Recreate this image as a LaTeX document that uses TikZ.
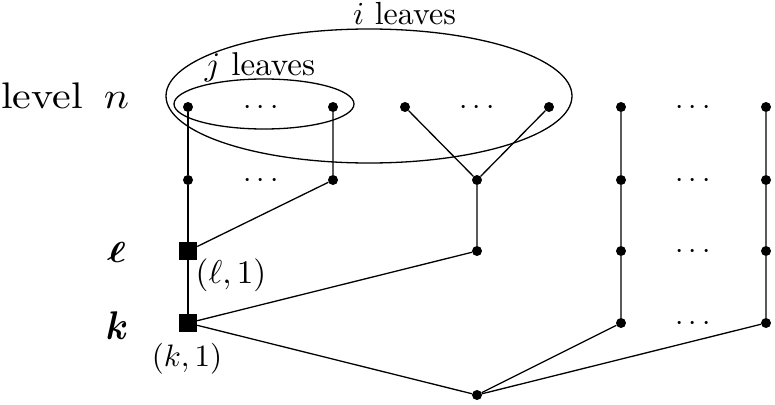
\RequirePackage{fix-cm}
\documentclass[tikz,border=0pt]{standalone}
\usepackage{bm}
\usepackage{graphicx}
\begin{document}
\begin{tikzpicture}[x=1pt,y=-1pt,
  dot/.style={circle,fill=black,inner sep=0pt,minimum size=10pt},
  sq/.style={rectangle,fill=black,inner sep=0pt,minimum size=18pt},
  edge/.style={line width=1.3pt},
  lbl/.style={inner sep=0pt,anchor=base}]
\useasboundingbox (0,0) rectangle (775,404);
% ellipses
\draw[edge] (369,96) ellipse [x radius=203pt, y radius=67pt];
\draw[edge] (264,104) ellipse [x radius=90pt, y radius=25pt];
% nodes
\node[dot] (a1) at (188,107) {};
\node[dot] (a2) at (333,107) {};
\node[dot] (a3) at (405,107) {};
\node[dot] (a4) at (549,107) {};
\node[dot] (a5) at (621,107) {};
\node[dot] (a6) at (766,107) {};
\node[dot] (b1) at (188,180) {};
\node[dot] (b2) at (333,180) {};
\node[dot] (b3) at (477,180) {};
\node[dot] (b5) at (621,180) {};
\node[dot] (b6) at (766,180) {};
\node[sq]  (c1) at (188,251) {};
\node[dot] (c3) at (477,251) {};
\node[dot] (c5) at (621,251) {};
\node[dot] (c6) at (766,251) {};
\node[sq]  (d1) at (188,323) {};
\node[dot] (d5) at (621,323) {};
\node[dot] (d6) at (766,323) {};
\node[dot] (e)  at (477,395) {};
% cdots
\foreach \n/\x/\y in {h1/261/107,h2/477/107,h3/693/107,h4/261/180,h5/693/180,h6/693/251,h7/693/323}
  \node[lbl] (\n) at (\x,\y+7.5) {\scalebox{3}{$\cdots$}};
% edges
\draw[edge] (a1) -- (b1) -- (c1) -- (d1);
\draw[edge] (a2) -- (b2) -- (c1);
\draw[edge] (a3) -- (b3);
\draw[edge] (a4) -- (b3) -- (c3) -- (d1) -- (e);
\draw[edge] (a5) -- (b5) -- (c5) -- (d5) -- (e);
\draw[edge] (a6) -- (b6) -- (c6) -- (d6) -- (e);
% labels
\node[lbl,anchor=base west] (lev) at (1,108.5) {\scalebox{4.2}[3.7]{level\hspace{5pt}$n$}};
\node[lbl] (ell) at (116.5,262) {\scalebox{4}[2.9]{$\bm{\ell}$}};
\node[lbl] (kk) at (117,339) {\scalebox{3.6}[4]{$\bm{k}$}};
\node[lbl] (l1) at (231,283) {\scalebox{3.3}{$(\ell,1)$}};
\node[lbl] (k1) at (187,366) {\scalebox{3.1}{$(k,1)$}};
\node[lbl] (jl) at (260,75) {\scalebox{3.3}{$j$ leaves}};
\node[lbl] (il) at (404.5,25) {\scalebox{3.2}{$i$ leaves}};
\end{tikzpicture}
\end{document}
